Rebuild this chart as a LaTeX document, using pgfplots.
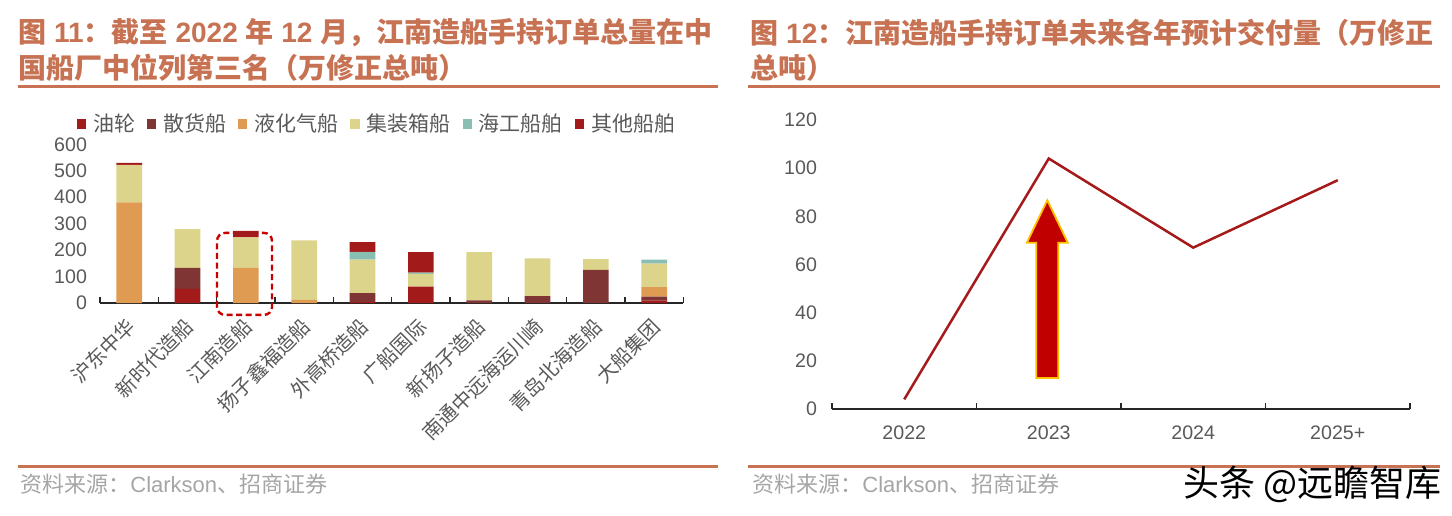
\documentclass[border=0pt]{standalone}
\usepackage{pgfplots}
\pgfplotsset{compat=1.18}
\usepackage{pgfplotstable}
\usepackage{fontspec}
\setmainfont{Liberation Sans}
\newfontfamily\cjk{Noto Sans CJK SC}

\definecolor{oilc}{RGB}{163,26,26}
\definecolor{bulkc}{RGB}{127,53,51}
\definecolor{lngc}{RGB}{223,155,82}
\definecolor{contc}{RGB}{221,212,140}
\definecolor{offc}{RGB}{137,191,179}
\definecolor{otherc}{RGB}{163,26,26}
\definecolor{titlec}{RGB}{199,114,82}
\definecolor{labelc}{RGB}{89,89,89}
\definecolor{srcc}{RGB}{165,165,165}
\definecolor{linec}{RGB}{165,25,25}
\definecolor{arrowc}{RGB}{192,0,0}
\definecolor{arrowedge}{RGB}{255,192,0}
\definecolor{boxc}{RGB}{200,0,0}

% orderbook by yard, 10k CGT
\pgfplotstableread{
x oil bulk lng cont off other
0 0   0   380 142 0  8
1 53  80  0   146 0  0
2 0   0   133 115 0  25
3 0   0   12  225 0  0
4 3   34  0   127 29 37
5 62  0   0   48  5  77
6 0   10  0   182 0  0
7 0   26  0   143 0  0
8 0   125 0   41  0  0
9 9   15  36  89  15 0
}\yards

% expected deliveries by year
\pgfplotstableread{
x val
0 4
1 104
2 67
3 95
}\deliv

\pgfplotsset{
  tickbase/.style={
    scale only axis,
    axis x line*=bottom,
    axis y line*=left,
    y axis line style={draw=none},
    ytick style={draw=none},
    x axis line style={black!85, line width=0.6pt},
    major tick length=0pt,
    tick align=inside,
    extra x tick style={major tick length=3pt, tick style={black!85, line width=0.6pt}},
    extra x tick labels={},
    tick label style={font=\fontsize{9.8}{11}\selectfont, text=labelc},
    /pgf/number format/assume math mode=true,
    clip=false,
  },
}

\begin{document}
\begin{tikzpicture}
\begin{scope}[x=0.5pt,y=-0.5pt]
  \path (0,0) rectangle (1452,515);
  \node[anchor=west, text=titlec, font=\fontsize{14}{16}\selectfont\bfseries, inner sep=0pt] at (18,33)
    {{\cjk 图} 11{\cjk ：截至} 2022 {\cjk 年} 12 {\cjk 月，江南造船手持订单总量在中}};
  \node[anchor=west, text=titlec, font=\fontsize{14}{16}\selectfont\bfseries\cjk, inner sep=0pt] at (18,68)
    {国船厂中位列第三名（万修正总吨）};
  \node[anchor=west, text=titlec, font=\fontsize{14}{16}\selectfont\bfseries, inner sep=0pt] at (750,33)
    {{\cjk 图} 12{\cjk ：江南造船手持订单未来各年预计交付量（万修正}};
  \node[anchor=west, text=titlec, font=\fontsize{14}{16}\selectfont\bfseries\cjk, inner sep=0pt] at (750,68)
    {总吨）};
  \draw[titlec, line width=1.5pt] (18,86) -- (718,86);
  \draw[titlec, line width=1.5pt] (748,86) -- (1440,86);
  \draw[titlec, line width=1.5pt] (18,466) -- (718,466);
  \draw[titlec, line width=1.5pt] (748,466) -- (1440,466);
  \node[anchor=west, text=srcc, font=\fontsize{11}{13}\selectfont, inner sep=0pt] at (20,484)
    {{\cjk 资料来源：}Clarkson{\cjk 、招商证券}};
  \node[anchor=west, text=srcc, font=\fontsize{11}{13}\selectfont, inner sep=0pt] at (752,484)
    {{\cjk 资料来源：}Clarkson{\cjk 、招商证券}};
  \node[anchor=east, text=black, font=\fontsize{18}{20}\selectfont\cjk, inner sep=0pt] at (1442,484)
    {头条 @远瞻智库};
\end{scope}

\begin{axis}[
    tickbase,
    at={(50pt,-151.5pt)}, anchor=south west,
    width=291.7pt, height=79.35pt,
    ybar stacked, bar width=0.44,
    xmin=-0.5, xmax=9.5, ymin=0, ymax=600,
    ytick={0,100,...,600},
    yticklabel style={xshift=-3pt},
    xtick={0,...,9},
    xticklabels={沪东中华,新时代造船,江南造船,扬子鑫福造船,外高桥造船,广船国际,新扬子造船,南通中远海运川崎,青岛北海造船,大船集团},
    xticklabel style={xshift=3.5pt, yshift=-7.5pt, rotate=45, anchor=east, font=\cjk\fontsize{10}{12}\selectfont},
    extra x ticks={-0.5,0.5,...,9.5},
    legend columns=-1,
    legend style={draw=none, fill=none, at={(0.473,1.128)}, anchor=center,
      font=\cjk\fontsize{10.5}{12}\selectfont, text=labelc, inner sep=0pt,
      nodes={inner sep=0pt},
      /tikz/every odd column/.append style={column sep=3.5pt},
      /tikz/every even column/.append style={column sep=6pt}},
    legend image code/.code={\fill[#1] (0pt,-2.3pt) rectangle (4.6pt,2.3pt);},
  ]
  \addplot[fill=oilc, draw=none] table[x=x,y=oil]{\yards};
  \addplot[fill=bulkc, draw=none] table[x=x,y=bulk]{\yards};
  \addplot[fill=lngc, draw=none] table[x=x,y=lng]{\yards};
  \addplot[fill=contc, draw=none] table[x=x,y=cont]{\yards};
  \addplot[fill=offc, draw=none] table[x=x,y=off]{\yards};
  \addplot[fill=otherc, draw=none] table[x=x,y=other]{\yards};
  \legend{油轮,散货船,液化气船,集装箱船,海工船舶,其他船舶}
  \draw[boxc, dash pattern=on 3pt off 1.8pt, line width=1.2pt, rounded corners=4pt]
    (axis cs:1.506,-45) rectangle (axis cs:2.449,265);
\end{axis}

\begin{axis}[
    tickbase,
    at={(416pt,-204.5pt)}, anchor=south west,
    width=289pt, height=144.5pt,
    xmin=-0.5, xmax=3.5, ymin=0, ymax=120,
    ytick={0,20,...,120},
    yticklabel style={xshift=-4pt},
    xtick={0,...,3},
    xticklabels={2022,2023,2024,2025+},
    xticklabel style={yshift=-5pt},
    extra x ticks={-0.5,0.5,...,3.5},
  ]
  \addplot[linec, line width=1.25pt, mark=none] table[x=x,y=val]{\deliv};
  \draw[fill=arrowc, draw=arrowedge, line width=0.9pt]
    (axis cs:0.914,12.9) -- (axis cs:0.914,69) -- (axis cs:0.848,69) -- (axis cs:0.99,86.7)
    -- (axis cs:1.132,69) -- (axis cs:1.066,69) -- (axis cs:1.066,12.9) -- cycle;
\end{axis}
\end{tikzpicture}
\end{document}
